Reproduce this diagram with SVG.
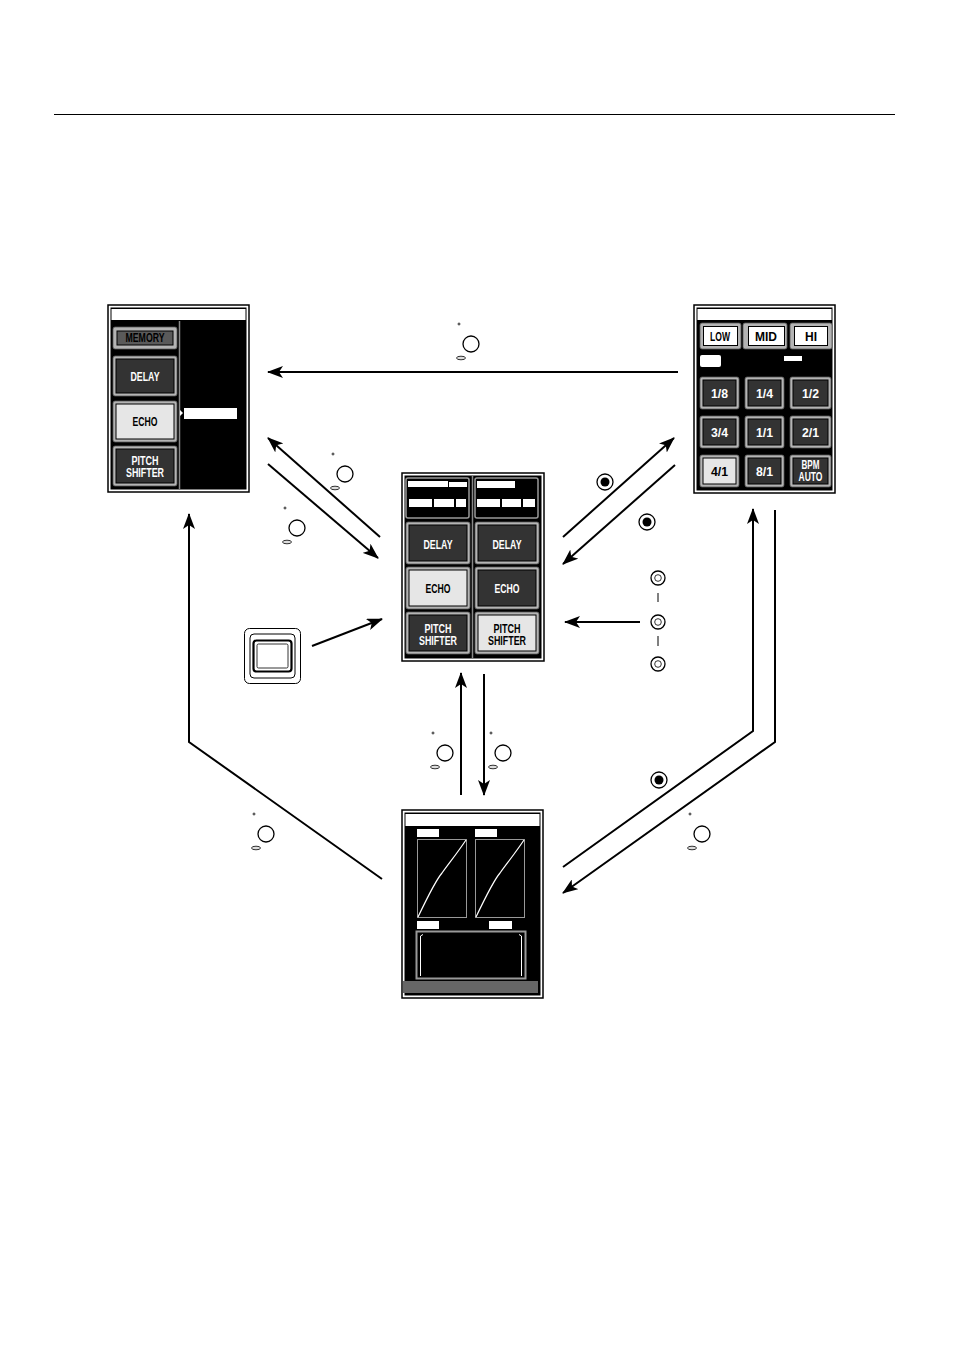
<svg xmlns="http://www.w3.org/2000/svg" xmlns:xlink="http://www.w3.org/1999/xlink" width="954" height="1350" viewBox="0 0 954 1350">
<style>
.bf{fill:#b4b4b4;stroke:#555;stroke-width:0.8}
.bi{fill:#333;stroke:#000;stroke-width:1}
.bl{fill:#e6e6e6;stroke:#000;stroke-width:1}
.bw{fill:#fff;stroke:#000;stroke-width:1}
.t{font-family:"Liberation Sans","DejaVu Sans",sans-serif;font-weight:bold;font-size:12px;text-anchor:middle}
.tw{fill:#fff}
.tb{fill:#000}
.po{fill:#fff;stroke:#000;stroke-width:1.5}
.pi{fill:#000}
.wt{fill:#fff}
.ar{fill:none;stroke:#000;stroke-width:2}
.k{fill:#fff;stroke:#000;stroke-width:1.3}
.kt{fill:none;stroke:#000;stroke-width:0.8}
</style>
<defs>
<marker id="ah" markerUnits="userSpaceOnUse" markerWidth="16" markerHeight="12" refX="15" refY="6" orient="auto">
<path d="M0,0 L16,6 L0,12 L4,6 z" fill="#000"/>
</marker>
<g id="knob">
<circle cx="-12" cy="-20" r="1" class="kt"/>
<circle cx="0" cy="0" r="8" class="k"/>
<ellipse cx="-10" cy="14" rx="4.5" ry="1.8" fill="#ddd" stroke="#000" stroke-width="0.8"/>
</g>
<g id="fknob">
<circle cx="0" cy="0" r="8" class="k"/>
<circle cx="0" cy="0" r="4.5" fill="#000"/>
</g>
<g id="sknob">
<circle cx="0" cy="0" r="7" class="k"/>
<circle cx="0" cy="0" r="3.3" class="kt"/>
</g>
</defs>
<rect width="954" height="1350" fill="#fff"/>
<line x1="54" y1="114.5" x2="895" y2="114.5" stroke="#000" stroke-width="1"/>

<g id="left-panel">
<rect class="po" x="108" y="305" width="141" height="187"/>
<rect class="pi" x="110.5" y="307.5" width="136" height="182"/>
<rect class="wt" x="111.5" y="309" width="134" height="11"/>
<line x1="179.5" y1="321" x2="179.5" y2="489" stroke="#888" stroke-width="1.5"/>
<rect class="bf" x="113" y="327" width="64" height="22" rx="2"/>
<rect x="117" y="331" width="56" height="14" fill="#5a5a5a" stroke="#000" stroke-width="1"/>
<text class="t tb" x="145" y="342" font-size="9.5" textLength="39" lengthAdjust="spacingAndGlyphs">MEMORY</text>
<rect class="bf" x="113" y="356" width="64" height="40" rx="2"/>
<rect class="bi" x="116" y="359" width="58" height="34"/>
<text class="t tw" x="145" y="381" textLength="29" lengthAdjust="spacingAndGlyphs">DELAY</text>
<rect class="bf" x="113" y="401" width="64" height="41" rx="2"/>
<rect class="bl" x="116" y="404" width="58" height="35"/>
<text class="t tb" x="145" y="425.5" textLength="25" lengthAdjust="spacingAndGlyphs">ECHO</text>
<rect class="bf" x="113" y="446" width="64" height="40" rx="2"/>
<rect class="bi" x="116" y="449" width="58" height="34"/>
<text class="t tw" x="145" y="464.5" textLength="27" lengthAdjust="spacingAndGlyphs">PITCH</text>
<text class="t tw" x="145" y="476.5" textLength="38" lengthAdjust="spacingAndGlyphs">SHIFTER</text>
<path d="M180,410 L183,413 L180,416 z" fill="#fff"/>
<rect class="wt" x="184" y="408" width="53" height="11"/>
</g>

<g id="right-panel">
<rect class="po" x="694" y="305" width="141" height="188"/>
<rect class="pi" x="696.5" y="307.5" width="136" height="183"/>
<rect class="wt" x="697.5" y="309" width="134" height="11"/>
<rect class="bf" x="700" y="323" width="41" height="26" rx="2"/>
<rect class="bw" x="703.5" y="326.5" width="34" height="19"/>
<text class="t tb" x="720" y="341" font-size="11" textLength="20" lengthAdjust="spacingAndGlyphs">LOW</text>
<rect class="bf" x="743" y="323" width="44" height="26" rx="2"/>
<rect class="bw" x="748.5" y="326.5" width="36" height="19"/>
<text class="t tb" x="766" y="341" font-size="11" textLength="22" lengthAdjust="spacingAndGlyphs">MID</text>
<rect class="bf" x="790" y="323" width="42" height="26" rx="2"/>
<rect class="bw" x="794.5" y="326.5" width="33" height="19"/>
<text class="t tb" x="811" y="341" font-size="11" textLength="12" lengthAdjust="spacingAndGlyphs">HI</text>
<rect class="wt" x="700" y="355" width="21" height="12" rx="2"/>
<rect class="wt" x="784" y="356" width="18" height="5"/>
<g>
<rect class="bf" x="700" y="377" width="39" height="32" rx="2"/><rect class="bi" x="703" y="380" width="33" height="26"/>
<text class="t tw" x="719.5" y="397.5" textLength="17" lengthAdjust="spacingAndGlyphs">1/8</text>
<rect class="bf" x="745" y="377" width="39" height="32" rx="2"/><rect class="bi" x="748" y="380" width="33" height="26"/>
<text class="t tw" x="764.5" y="397.5" textLength="17" lengthAdjust="spacingAndGlyphs">1/4</text>
<rect class="bf" x="790" y="377" width="41" height="32" rx="2"/><rect class="bi" x="793" y="380" width="35" height="26"/>
<text class="t tw" x="810.5" y="397.5" textLength="17" lengthAdjust="spacingAndGlyphs">1/2</text>
<rect class="bf" x="700" y="416" width="39" height="32" rx="2"/><rect class="bi" x="703" y="419" width="33" height="26"/>
<text class="t tw" x="719.5" y="436.5" textLength="17" lengthAdjust="spacingAndGlyphs">3/4</text>
<rect class="bf" x="745" y="416" width="39" height="32" rx="2"/><rect class="bi" x="748" y="419" width="33" height="26"/>
<text class="t tw" x="764.5" y="436.5" textLength="17" lengthAdjust="spacingAndGlyphs">1/1</text>
<rect class="bf" x="790" y="416" width="41" height="32" rx="2"/><rect class="bi" x="793" y="419" width="35" height="26"/>
<text class="t tw" x="810.5" y="436.5" textLength="17" lengthAdjust="spacingAndGlyphs">2/1</text>
<rect class="bf" x="700" y="455" width="39" height="32" rx="2"/><rect class="bl" x="703" y="458" width="33" height="26"/>
<text class="t tb" x="719.5" y="475.5" textLength="17" lengthAdjust="spacingAndGlyphs">4/1</text>
<rect class="bf" x="745" y="455" width="39" height="32" rx="2"/><rect class="bi" x="748" y="458" width="33" height="26"/>
<text class="t tw" x="764.5" y="475.5" textLength="17" lengthAdjust="spacingAndGlyphs">8/1</text>
<rect class="bf" x="790" y="455" width="41" height="32" rx="2"/><rect class="bi" x="793" y="458" width="35" height="26"/>
<text class="t tw" x="810.5" y="468.5" font-size="11" textLength="18" lengthAdjust="spacingAndGlyphs">BPM</text>
<text class="t tw" x="810.5" y="480.5" font-size="11" textLength="24" lengthAdjust="spacingAndGlyphs">AUTO</text>
</g>
</g>

<g id="center-panel">
<rect class="po" x="402" y="473" width="142" height="188"/>
<rect class="pi" x="404.5" y="475.5" width="137" height="183"/>
<line x1="472.5" y1="476" x2="472.5" y2="658" stroke="#888" stroke-width="1.5"/>
<rect x="406" y="478" width="63" height="40" rx="2" fill="#000" stroke="#999" stroke-width="1.5"/>
<rect class="wt" x="408" y="481" width="40" height="6"/>
<rect class="wt" x="449" y="482" width="18" height="5"/>
<rect class="wt" x="409" y="499" width="23" height="8"/>
<rect class="wt" x="434" y="499" width="20" height="8"/>
<rect class="wt" x="456" y="499" width="10" height="8"/>
<rect x="475" y="478" width="63" height="40" rx="2" fill="#000" stroke="#999" stroke-width="1.5"/>
<rect class="wt" x="477" y="481" width="38" height="7"/>
<rect class="wt" x="477" y="499" width="23" height="8"/>
<rect class="wt" x="502" y="499" width="19" height="8"/>
<rect class="wt" x="523" y="499" width="12" height="8"/>
<rect class="bf" x="406" y="522" width="64" height="42" rx="2"/><rect class="bi" x="409" y="525" width="58" height="36"/>
<text class="t tw" x="438" y="548.5" textLength="29" lengthAdjust="spacingAndGlyphs">DELAY</text>
<rect class="bf" x="475" y="522" width="64" height="42" rx="2"/><rect class="bi" x="478" y="525" width="58" height="36"/>
<text class="t tw" x="507" y="548.5" textLength="29" lengthAdjust="spacingAndGlyphs">DELAY</text>
<rect class="bf" x="406" y="567" width="64" height="42" rx="2"/><rect class="bl" x="409" y="570" width="58" height="36"/>
<text class="t tb" x="438" y="592.5" textLength="25" lengthAdjust="spacingAndGlyphs">ECHO</text>
<rect class="bf" x="475" y="567" width="64" height="42" rx="2"/><rect class="bi" x="478" y="570" width="58" height="36"/>
<text class="t tw" x="507" y="592.5" textLength="25" lengthAdjust="spacingAndGlyphs">ECHO</text>
<rect class="bf" x="406" y="612" width="64" height="42" rx="2"/><rect class="bi" x="409" y="615" width="58" height="36"/>
<text class="t tw" x="438" y="632.5" textLength="27" lengthAdjust="spacingAndGlyphs">PITCH</text>
<text class="t tw" x="438" y="644.5" textLength="38" lengthAdjust="spacingAndGlyphs">SHIFTER</text>
<rect class="bf" x="475" y="612" width="64" height="42" rx="2"/><rect class="bl" x="478" y="615" width="58" height="36"/>
<text class="t tb" x="507" y="632.5" textLength="27" lengthAdjust="spacingAndGlyphs">PITCH</text>
<text class="t tb" x="507" y="644.5" textLength="38" lengthAdjust="spacingAndGlyphs">SHIFTER</text>
</g>

<g id="bottom-panel">
<rect class="po" x="402" y="810" width="141" height="188"/>
<rect class="pi" x="404.5" y="812.5" width="136" height="183"/>
<rect class="wt" x="405.5" y="814" width="134" height="12"/>
<rect class="wt" x="417" y="829" width="22" height="8"/>
<rect class="wt" x="475" y="829" width="22" height="8"/>
<rect x="417.5" y="839.5" width="49" height="78" fill="#000" stroke="#999" stroke-width="1"/>
<rect x="475.5" y="839.5" width="49" height="78" fill="#000" stroke="#999" stroke-width="1"/>
<path d="M418,917 C428,896 436,880 442,873 C450,862 458,852 466,840" fill="none" stroke="#fff" stroke-width="1.2"/>
<path d="M476,917 C486,896 494,880 500,873 C508,862 516,852 524,840" fill="none" stroke="#fff" stroke-width="1.2"/>
<rect class="wt" x="417" y="921" width="22" height="8"/>
<rect class="wt" x="489" y="921" width="23" height="8"/>
<rect x="416.5" y="931.5" width="109" height="47" fill="#000" stroke="#999" stroke-width="2"/>
<path d="M423,934.5 L420.5,936 L420.5,976" fill="none" stroke="#fff" stroke-width="1"/>
<path d="M519,934.5 L521.5,936 L521.5,976" fill="none" stroke="#fff" stroke-width="1"/>
<rect x="403" y="981" width="135" height="12" fill="#666"/>
</g>

<g id="button-switch">
<rect x="244.5" y="628.5" width="56" height="55" rx="5" fill="#fff" stroke="#000" stroke-width="1"/>
<rect x="250" y="634" width="45" height="44" rx="4" fill="#fff" stroke="#000" stroke-width="1"/>
<rect x="253.5" y="640.5" width="38" height="31" rx="3" fill="#fff" stroke="#000" stroke-width="2.2"/>
<rect x="257" y="644" width="31" height="24" rx="1.5" fill="#fff" stroke="#000" stroke-width="0.8"/>
</g>

<g id="controls">
<use xlink:href="#knob" x="471" y="344"/>
<use xlink:href="#knob" x="345" y="474"/>
<use xlink:href="#knob" x="297" y="528"/>
<use xlink:href="#knob" x="445" y="753"/>
<use xlink:href="#knob" x="503" y="753"/>
<use xlink:href="#knob" x="266" y="834"/>
<use xlink:href="#knob" x="702" y="834"/>
<use xlink:href="#fknob" x="605" y="482"/>
<use xlink:href="#fknob" x="647" y="522"/>
<use xlink:href="#fknob" x="659" y="780"/>
<use xlink:href="#sknob" x="658" y="578"/>
<use xlink:href="#sknob" x="658" y="622"/>
<use xlink:href="#sknob" x="658" y="664"/>
<line x1="658" y1="593" x2="658" y2="602" stroke="#000" stroke-width="1"/>
<line x1="658" y1="636" x2="658" y2="646" stroke="#000" stroke-width="1"/>
</g>

<g id="connectors">
<line class="ar" x1="678" y1="372" x2="268" y2="372" marker-end="url(#ah)"/>
<line class="ar" x1="380" y1="537" x2="268" y2="438" marker-end="url(#ah)"/>
<line class="ar" x1="268" y1="464" x2="378" y2="558" marker-end="url(#ah)"/>
<line class="ar" x1="312" y1="646" x2="382" y2="619" marker-end="url(#ah)"/>
<line class="ar" x1="563" y1="537" x2="674" y2="438" marker-end="url(#ah)"/>
<line class="ar" x1="675" y1="465" x2="563" y2="564" marker-end="url(#ah)"/>
<line class="ar" x1="640" y1="622" x2="565" y2="622" marker-end="url(#ah)"/>
<line class="ar" x1="461" y1="795" x2="461" y2="673" marker-end="url(#ah)"/>
<line class="ar" x1="484" y1="674" x2="484" y2="795" marker-end="url(#ah)"/>
<polyline class="ar" points="382,879 189,742 189,514" marker-end="url(#ah)"/>
<polyline class="ar" points="563,867 753,731 753,509" marker-end="url(#ah)"/>
<polyline class="ar" points="775,510 775,742 563,893" marker-end="url(#ah)"/>
</g>
</svg>
